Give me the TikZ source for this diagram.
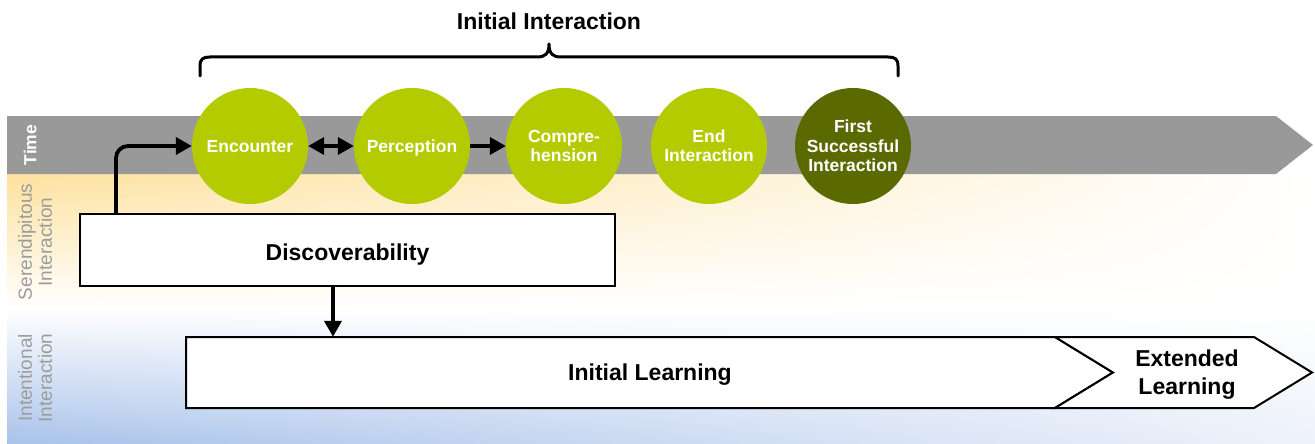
\documentclass[tikz,border=0pt]{standalone}
\usepackage{fontspec}
\setmainfont{Liberation Sans}
\usetikzlibrary{arrows.meta,calc,shadings}
\definecolor{mylime}{HTML}{B3CB00}
\definecolor{myolive}{HTML}{5A6900}
\definecolor{bandgray}{HTML}{999999}
\definecolor{yel}{HTML}{FDE19E}
\definecolor{blu}{HTML}{A8C2EA}
\definecolor{blur}{HTML}{EEF2FA}
\definecolor{lbl}{HTML}{9C9C9C}
\begin{document}
\begin{tikzpicture}[x=1pt,y=-1pt,
  stage/.style={circle,fill=mylime,minimum size=116pt,inner sep=0pt,text=white,
    font=\bfseries\fontsize{17.5}{19.4}\selectfont,align=center},
  onel/.style={text height=12.6pt,text depth=0pt},
  arr/.style={line width=3.8pt,-{Triangle[length=16pt,width=17pt]}},
  dblarr/.style={line width=3.8pt,{Triangle[length=16pt,width=17pt]}-{Triangle[length=16pt,width=17pt]}},
  box/.style={draw=black,line width=2pt,fill=white},
  lane/.style={rotate=90,text=lbl,font=\fontsize{19}{20}\selectfont,align=center},
  big/.style={font=\bfseries\fontsize{23}{28}\selectfont,align=center}]
\useasboundingbox (0,0) rectangle (1315,444);
% background lanes
\shade[upper left=yel, upper right=white, lower left=white, lower right=white] (7,174) rectangle (1315,308);
\shade[upper left=white, upper right=white, lower left=blu, lower right=blur] (7,308) rectangle (1315,444);
% time band
\fill[bandgray] (7,116) -- (1276,116) -- (1313,145) -- (1276,174) -- (7,174) -- cycle;
\node[rotate=90,text=white,font=\bfseries\fontsize{17.5}{19}\selectfont] (time) at (30,145) {Time};
\node[lane] (ser) at (35,242) {Serendipitous\\Interaction};
\node[lane] (intl) at (35,378) {Intentional\\Interaction};
% title and brace
\node[big] (title) at (549,21) {Initial Interaction};
\draw[line width=3pt,line cap=round,line join=round]
  (200,76) -- (200,66) .. controls (200,59) and (203,57) .. (210,57)
  -- (537,57) .. controls (545,57) and (549,54) .. (549,44)
  .. controls (549,54) and (553,57) .. (561,57)
  -- (888,57) .. controls (895,57) and (898,59) .. (898,66) -- (898,76);
% stages
\node[stage,onel] (enc) at (250,146) {Encounter};
\node[stage,onel] (per) at (412,146) {Perception};
\node[stage] (comp) at (564,146) {Compre-\\hension};
\node[stage] (endi) at (709,146) {End\\Interaction};
\node[stage,fill=myolive] (first) at (853,146) {First\\Successful\\Interaction};
\draw[dblarr] (enc) -- (per);
\draw[arr] (per) -- (comp);
% discoverability
\node[box,minimum width=535pt,minimum height=72pt,big,text height=20pt,text depth=0pt] (disc) at (347.5,250) {Discoverability};
\draw[arr,rounded corners=12pt] ([xshift=37pt]disc.north west) |- (enc.west);
% learning
\draw[box,line join=miter] (186,337) -- (1055,337) -- (1113,372.5) -- (1055,408) -- (186,408) -- cycle;
\draw[box,line join=miter] (1055,337) -- (1254,337) -- (1312,372.5) -- (1254,408) -- (1055,408) -- (1113,372.5) -- cycle;
\node[big,minimum height=71pt,inner sep=0pt,text height=16.4pt,text depth=0pt] (il) at (650,372.5) {Initial Learning};
\node[big,yshift=-2pt] (el) at (1187,372.5) {Extended\\Learning};
\coordinate (dn) at (333,0);
\draw[arr] (disc.south -| dn) -- (dn |- il.north);
\end{tikzpicture}
\end{document}
